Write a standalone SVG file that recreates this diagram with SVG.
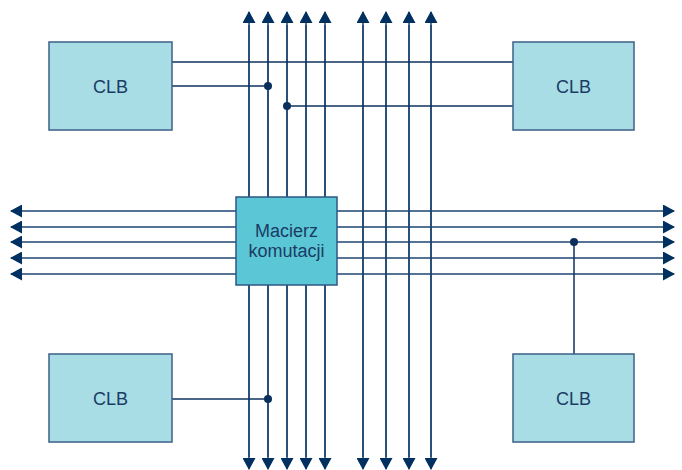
<svg xmlns="http://www.w3.org/2000/svg" width="682" height="470" viewBox="0 0 682 470">
  <style>
    .bus { stroke: #1d4570; stroke-width: 1.5; fill: none; }
    .wire { stroke: #0c3360; stroke-width: 1.5; fill: none; }
    .clb rect { fill: #a8dde6; stroke: #3c6088; stroke-width: 1.5; }
    .sw rect { fill: #5bc6d6; stroke: #2d5785; stroke-width: 1.5; }
    text { font-family: "Liberation Sans", Arial, sans-serif; font-size: 18px; fill: #1a3c64; text-anchor: middle; }
    .dot { fill: #0a2f5c; }
  </style>
  <defs>
    <marker id="arr" viewBox="0 0 12 13" refX="11" refY="6.5" markerWidth="12" markerHeight="13" markerUnits="userSpaceOnUse" orient="auto">
      <path d="M0,0 L12,6.5 L0,13 Z" fill="#00305f"/>
    </marker>
  </defs>

  <g id="connectors">
    <!-- vertical routing channels, arrows at both ends -->
    <g class="bus">
      <line x1="249" y1="457" x2="249" y2="12" marker-end="url(#arr)"/>
      <line x1="268" y1="457" x2="268" y2="12" marker-end="url(#arr)"/>
      <line x1="287" y1="457" x2="287" y2="12" marker-end="url(#arr)"/>
      <line x1="306" y1="457" x2="306" y2="12" marker-end="url(#arr)"/>
      <line x1="325" y1="457" x2="325" y2="12" marker-end="url(#arr)"/>
      <line x1="363" y1="457" x2="363" y2="12" marker-end="url(#arr)"/>
      <line x1="386" y1="457" x2="386" y2="12" marker-end="url(#arr)"/>
      <line x1="409" y1="457" x2="409" y2="12" marker-end="url(#arr)"/>
      <line x1="431" y1="457" x2="431" y2="12" marker-end="url(#arr)"/>

      <line x1="249" y1="25" x2="249" y2="469" marker-end="url(#arr)"/>
      <line x1="268" y1="25" x2="268" y2="469" marker-end="url(#arr)"/>
      <line x1="287" y1="25" x2="287" y2="469" marker-end="url(#arr)"/>
      <line x1="306" y1="25" x2="306" y2="469" marker-end="url(#arr)"/>
      <line x1="325" y1="25" x2="325" y2="469" marker-end="url(#arr)"/>
      <line x1="363" y1="25" x2="363" y2="469" marker-end="url(#arr)"/>
      <line x1="386" y1="25" x2="386" y2="469" marker-end="url(#arr)"/>
      <line x1="409" y1="25" x2="409" y2="469" marker-end="url(#arr)"/>
      <line x1="431" y1="25" x2="431" y2="469" marker-end="url(#arr)"/>
    </g>

    <!-- horizontal routing channels -->
    <g class="bus">
      <line x1="240" y1="211" x2="11" y2="211" marker-end="url(#arr)"/>
      <line x1="240" y1="227" x2="11" y2="227" marker-end="url(#arr)"/>
      <line x1="240" y1="242" x2="11" y2="242" marker-end="url(#arr)"/>
      <line x1="240" y1="258" x2="11" y2="258" marker-end="url(#arr)"/>
      <line x1="240" y1="274" x2="11" y2="274" marker-end="url(#arr)"/>

      <line x1="333" y1="211" x2="674" y2="211" marker-end="url(#arr)"/>
      <line x1="333" y1="227" x2="674" y2="227" marker-end="url(#arr)"/>
      <line x1="333" y1="242" x2="674" y2="242" marker-end="url(#arr)"/>
      <line x1="333" y1="258" x2="674" y2="258" marker-end="url(#arr)"/>
      <line x1="333" y1="274" x2="674" y2="274" marker-end="url(#arr)"/>
    </g>

    <!-- CLB taps onto the channels -->
    <g class="wire">
      <line x1="172" y1="62" x2="513" y2="62"/>
      <line x1="172" y1="86" x2="268" y2="86"/>
      <line x1="287" y1="106" x2="513" y2="106"/>
      <line x1="172" y1="399" x2="268" y2="399"/>
      <line x1="574" y1="242" x2="574" y2="354"/>
    </g>
    <circle class="dot" cx="268" cy="86" r="4"/>
    <circle class="dot" cx="287" cy="106" r="4"/>
    <circle class="dot" cx="268" cy="399" r="4"/>
    <circle class="dot" cx="574" cy="242" r="4"/>
  </g>

  <g id="switch-matrix" class="sw">
    <rect x="236" y="197" width="101" height="88"/>
    <text x="286.5" y="237">Macierz</text>
    <text x="286.5" y="257">komutacji</text>
  </g>

  <g id="clb-top-left" class="clb">
    <rect x="49" y="42" width="123" height="88"/>
    <text x="110.5" y="93">CLB</text>
  </g>
  <g id="clb-top-right" class="clb">
    <rect x="513" y="42" width="121" height="88"/>
    <text x="573.5" y="93">CLB</text>
  </g>
  <g id="clb-bottom-left" class="clb">
    <rect x="49" y="354" width="123" height="88"/>
    <text x="110.5" y="405">CLB</text>
  </g>
  <g id="clb-bottom-right" class="clb">
    <rect x="513" y="354" width="121" height="88"/>
    <text x="573.5" y="405">CLB</text>
  </g>
</svg>
